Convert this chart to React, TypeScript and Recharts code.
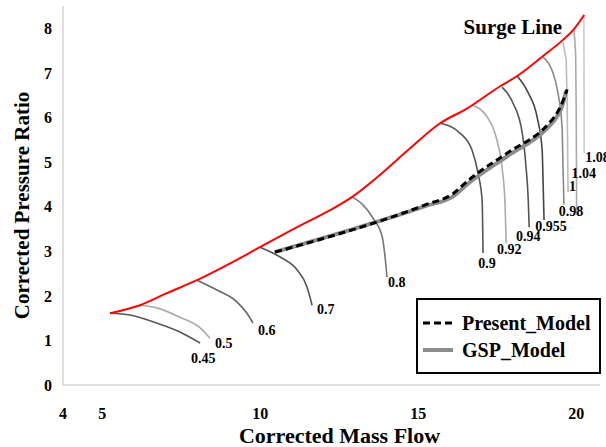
import { ComposedChart, Label, Legend, Line, XAxis, YAxis } from "recharts";

const FONT = "'Liberation Serif', 'Times New Roman', serif";

// axis ticks (the first tick sits at the axis origin and reads "4")
const xTicks = [3.76, 5, 10, 15, 20];
const yTicks = [0, 1, 2, 3, 4, 5, 6, 7, 8];

// surge line
const surgeFlow = [5.25, 6.2, 7.05, 8.0, 9.14, 9.99, 11.17, 12.21, 12.91, 13.7, 14.68, 15.69, 16.54, 17.59, 18.13, 18.95, 19.58, 19.9, 20.25];
const surgeRatio = [1.61, 1.79, 2.06, 2.35, 2.76, 3.09, 3.54, 3.92, 4.22, 4.66, 5.27, 5.87, 6.2, 6.7, 6.93, 7.38, 7.74, 7.96, 8.3];

// operating line, two models
const presentFlow = [10.47, 15.22, 16.1, 16.6, 17.81, 19.08, 19.39, 19.55, 19.71];
const presentRatio = [2.98, 4.04, 4.29, 4.6, 5.2, 5.83, 6.1, 6.32, 6.63];
const gspFlow = [10.45, 15.22, 16.1, 16.6, 17.81, 19.08, 19.39, 19.55, 19.68];
const gspRatio = [2.98, 4.01, 4.23, 4.53, 5.13, 5.76, 6.02, 6.25, 6.6];

// speed lines
const speedNames = ["0.45", "0.5", "0.6", "0.7", "0.8", "0.9", "0.92", "0.94", "0.955", "0.98", "1", "1.04", "1.08"];
const speedFlows = [
  [5.25, 5.88, 6.73, 7.46, 8.1],
  [6.2, 6.73, 7.46, 8.1, 8.41],
  [8.0, 8.63, 9.27, 9.58, 9.77],
  [9.99, 10.63, 11.17, 11.48, 11.64],
  [12.91, 13.25, 13.57, 13.86, 13.95, 14.01],
  [15.69, 16.32, 16.7, 16.89, 17.02, 17.05],
  [16.7, 17.18, 17.49, 17.65, 17.75, 17.78],
  [17.65, 18.0, 18.29, 18.41, 18.48, 18.51],
  [18.13, 18.48, 18.76, 18.92, 18.95, 18.98],
  [18.95, 19.23, 19.42, 19.55, 19.58, 19.61],
  [19.58, 19.68, 19.71, 19.74],
  [19.93, 19.98, 20.0, 20.01],
  [20.24, 20.25],
];
const speedRatios = [
  [1.61, 1.57, 1.39, 1.19, 0.94],
  [1.79, 1.73, 1.52, 1.28, 1.05],
  [2.35, 2.13, 1.86, 1.61, 1.39],
  [3.09, 2.87, 2.58, 2.2, 1.79],
  [4.22, 4.04, 3.74, 3.32, 2.87, 2.42],
  [5.87, 5.65, 5.27, 4.75, 4.15, 2.96],
  [6.28, 6.01, 5.49, 4.89, 3.99, 3.18],
  [6.68, 6.32, 5.65, 4.89, 4.15, 3.54],
  [6.93, 6.55, 6.01, 5.27, 4.53, 3.7],
  [7.35, 7.06, 6.55, 5.78, 4.89, 4.05],
  [7.69, 7.29, 6.39, 4.33],
  [7.96, 7.4, 5.94, 3.81],
  [8.28, 5.2],
];

// look of each speed line: colour, and where its label sits from the last point
const speedStyles = [
  { color: "#555", dx: 3, dy: 15, anchor: "middle" },
  { color: "#aaa", dx: 5, dy: 5, anchor: "start" },
  { color: "#666", dx: 5, dy: 7, anchor: "start" },
  { color: "#555", dx: 5, dy: 4, anchor: "start" },
  { color: "#777", dx: 1, dy: 5, anchor: "start" },
  { color: "#555", dx: 4, dy: 10, anchor: "middle" },
  { color: "#aaa", dx: 3, dy: 6, anchor: "middle" },
  { color: "#555", dx: -1, dy: 9, anchor: "middle" },
  { color: "#444", dx: 7, dy: 6, anchor: "middle" },
  { color: "#888", dx: 7, dy: 7, anchor: "middle" },
  { color: "#bbb", dx: 1, dy: -5, anchor: "start" },
  { color: "#aaa", dx: -5, dy: -42, anchor: "start" },
  { color: "#ccc", dx: 1, dy: 4, anchor: "start" },
];

const toPoints = (xs: number[], ys: number[]) => xs.map((x, i) => ({ x, y: ys[i] }));

const endLabel =
  (text: string, count: number, dx: number, dy: number, anchor: string, size = 14) =>
  (props: any) => {
    const { x, y, index } = props;
    if (index !== count - 1) return <g key={`l-${text}-${index}`} />;
    return (
      <text
        key={`l-${text}`}
        x={x + dx}
        y={y + dy}
        textAnchor={anchor as any}
        dominantBaseline="central"
        fontFamily={FONT}
        fontWeight="bold"
        fontSize={size}
        fill="#000"
      >
        {text}
      </text>
    );
  };

const LegendBox = () => (
  <svg width={185} height={76} style={{ display: "block" }}>
    <rect x={1} y={1} width={183} height={74} fill="#fff" stroke="#000" strokeWidth={2} />
    <line x1={7} x2={37} y1={25} y2={25} stroke="#000" strokeWidth={3} strokeDasharray="7 4" />
    <text x={46} y={25} dominantBaseline="central" fontFamily={FONT} fontWeight="bold" fontSize={20}>
      Present_Model
    </text>
    <line x1={7} x2={37} y1={52} y2={52} stroke="#8c8c8c" strokeWidth={4} />
    <text x={46} y={52} dominantBaseline="central" fontFamily={FONT} fontWeight="bold" fontSize={20}>
      GSP_Model
    </text>
  </svg>
);

const tickStyle = { fill: "#000", fontFamily: FONT, fontWeight: "bold", fontSize: 16 } as any;

export default function App() {
  return (
    <div style={{ position: "absolute", left: 0, top: 0, width: 606, height: 447, background: "#fff" }}>
      <ComposedChart width={606} height={447} margin={{ top: 6, right: 6, left: 0, bottom: 0 }}>
        <XAxis
          type="number"
          dataKey="x"
          domain={[3.76, 20.75]}
          ticks={xTicks}
          tickFormatter={(v: number) => String(Math.round(v))}
          allowDataOverflow
          height={62}
          tickLine={false}
          tickMargin={17}
          stroke="#bfbfbf"
          tick={tickStyle}
        >
          <Label
            content={({ viewBox }: any) => (
              <text
                x={viewBox.x + viewBox.width / 2 + 8}
                y={viewBox.y + 50}
                textAnchor="middle"
                dominantBaseline="central"
                fontFamily={FONT}
                fontWeight="bold"
                fontSize={22}
              >
                Corrected Mass Flow
              </text>
            )}
          />
        </XAxis>
        <YAxis
          type="number"
          dataKey="y"
          domain={[0, 8.5]}
          ticks={yTicks}
          width={63}
          tickLine={false}
          tickMargin={5}
          stroke="#bfbfbf"
          tick={tickStyle}
        >
          <Label
            content={({ viewBox }: any) => (
              <text
                x={22}
                y={viewBox.y + viewBox.height / 2 + 10}
                transform={`rotate(-90 22 ${viewBox.y + viewBox.height / 2 + 10})`}
                textAnchor="middle"
                dominantBaseline="central"
                fontFamily={FONT}
                fontWeight="bold"
                fontSize={21}
              >
                Corrected Pressure Ratio
              </text>
            )}
          />
        </YAxis>
        <Legend
          layout="horizontal"
          align="center"
          verticalAlign="middle"
          content={() => <LegendBox />}
          wrapperStyle={{ position: "absolute", left: 416, top: 298, width: 185, height: 76 }}
        />
        {speedNames.map((name, i) => (
          <Line
            key={name}
            data={toPoints(speedFlows[i], speedRatios[i])}
            dataKey="y"
            type={speedFlows[i].length > 4 ? "monotone" : "linear"}
            stroke={speedStyles[i].color}
            strokeWidth={1.6}
            dot={false}
            activeDot={false}
            legendType="none"
            isAnimationActive={false}
            label={endLabel(name, speedFlows[i].length, speedStyles[i].dx, speedStyles[i].dy, speedStyles[i].anchor)}
          />
        ))}
        <Line
          data={toPoints(gspFlow, gspRatio)}
          dataKey="y"
          name="GSP_Model"
          type="monotone"
          stroke="#8c8c8c"
          strokeWidth={4}
          dot={false}
          activeDot={false}
          isAnimationActive={false}
        />
        <Line
          data={toPoints(presentFlow, presentRatio)}
          dataKey="y"
          name="Present_Model"
          type="monotone"
          stroke="#000"
          strokeWidth={3}
          strokeDasharray="7 4"
          dot={false}
          activeDot={false}
          isAnimationActive={false}
        />
        <Line
          data={toPoints(surgeFlow, surgeRatio)}
          dataKey="y"
          name="Surge Line"
          type="monotone"
          stroke="#ff0000"
          strokeWidth={2}
          dot={false}
          activeDot={false}
          legendType="none"
          isAnimationActive={false}
          label={endLabel("Surge Line", surgeFlow.length, -22, 12, "end", 21)}
        />
      </ComposedChart>
    </div>
  );
}
